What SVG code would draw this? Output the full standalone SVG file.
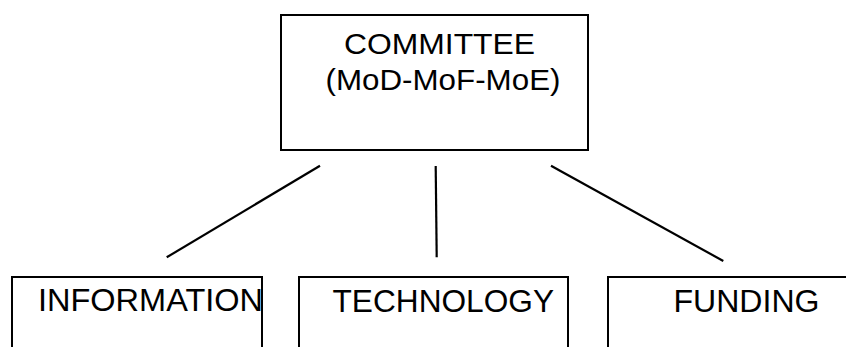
<svg xmlns="http://www.w3.org/2000/svg" width="846" height="347" viewBox="0 0 846 347">
<style>
.box{fill:#fff;stroke:#000;stroke-width:2}
.lbl{font-family:"Liberation Sans",Arial,sans-serif;fill:#000}
.con line{stroke:#000;stroke-width:2.2}
</style>
<rect width="846" height="347" fill="#fff"/>
<g id="committee">
<rect class="box" x="281" y="15" width="307" height="135"/>
<text class="lbl" x="344" y="54.3" font-size="30" textLength="191" lengthAdjust="spacingAndGlyphs">COMMITTEE</text>
<text class="lbl" x="325.5" y="90" font-size="29" textLength="235" lengthAdjust="spacingAndGlyphs">(MoD-MoF-MoE)</text>
</g>
<g id="connectors" class="con">
<line x1="320" y1="165.7" x2="166.7" y2="257.3"/>
<line x1="435.7" y1="166" x2="436.7" y2="257.3"/>
<line x1="551" y1="165.7" x2="723.3" y2="261"/>
</g>
<g id="information">
<rect class="box" x="12" y="277" width="250" height="90"/>
<text class="lbl" x="38" y="311" font-size="32" textLength="225" lengthAdjust="spacingAndGlyphs">INFORMATION</text>
</g>
<g id="technology">
<rect class="box" x="299" y="277" width="269" height="90"/>
<text class="lbl" x="332.5" y="311.5" font-size="32" textLength="221.5" lengthAdjust="spacingAndGlyphs">TECHNOLOGY</text>
</g>
<g id="funding">
<rect class="box" x="608" y="277" width="260" height="90"/>
<text class="lbl" x="673.5" y="311.5" font-size="32" textLength="146" lengthAdjust="spacingAndGlyphs">FUNDING</text>
</g>
</svg>
